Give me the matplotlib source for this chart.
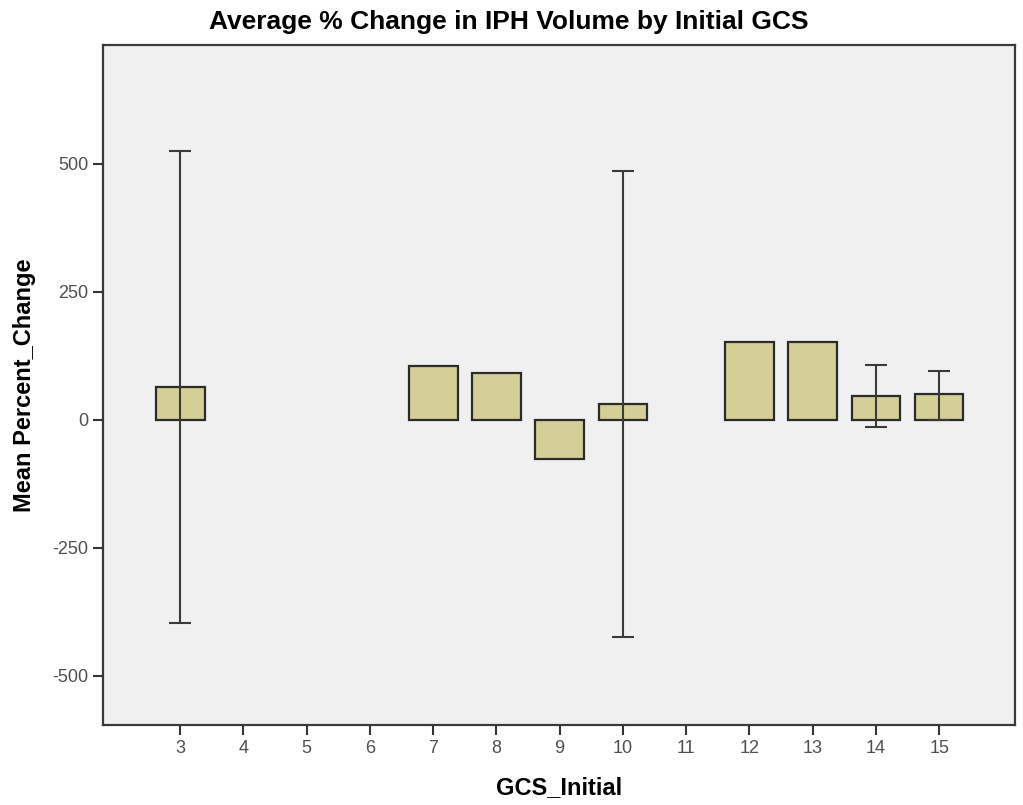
import numpy as np
import matplotlib.pyplot as plt
from matplotlib import font_manager

# data
gcs_ticks = [3, 4, 5, 6, 7, 8, 9, 10, 11, 12, 13, 14, 15]
gcs_bars = [3, 7, 8, 9, 10, 12, 13, 14, 15]
mean_change = [64, 105, 92, -76, 31, 152, 152, 47, 51]
ci_low = [-396, np.nan, np.nan, np.nan, -424, np.nan, np.nan, -14, 0]
ci_high = [525, np.nan, np.nan, np.nan, 486, np.nan, np.nan, 107, 96]

names = {f.name for f in font_manager.fontManager.ttflist}
title_font = ['Liberation Sans Narrow', 'Liberation Sans', 'DejaVu Sans']
title_font = [f for f in title_font if f in names] or ['DejaVu Sans']
plt.rcParams['font.family'] = ['Liberation Sans', 'DejaVu Sans']

fig = plt.figure(figsize=(10.23, 8.05), dpi=100)
ax = fig.add_axes([0.1007, 0.0994, 0.8915, 0.8447])
ax.set_facecolor('#f0f0f0')

ax.bar(gcs_bars, mean_change, width=0.77, color='#d3cf96',
       edgecolor='#2b2b2b', linewidth=1.6, zorder=2)

# error bars only where a range exists
x = np.array(gcs_bars, dtype=float)
m = np.array(mean_change, dtype=float)
lo = np.array(ci_low, dtype=float)
hi = np.array(ci_high, dtype=float)
ok = ~np.isnan(lo)
ax.errorbar(x[ok], m[ok], yerr=[m[ok] - lo[ok], hi[ok] - m[ok]], fmt='none',
            ecolor='#3a3a3a', elinewidth=1.5, capsize=8, capthick=1.5, zorder=3)

ax.set_xlim(1.78, 16.2)
ax.set_ylim(-596, 732)
ax.set_xticks(gcs_ticks)
ax.set_xticklabels([str(g) for g in gcs_ticks])
ax.set_yticks([-500, -250, 0, 250, 500])
ax.set_yticklabels(['-500', '-250', '0', '250', '500'])
ax.tick_params(direction='out', length=7, width=1.5, color='#333333',
               labelcolor='#505050', labelsize=13)

for s in ax.spines.values():
    s.set_color('#3a3a3a')
    s.set_linewidth(1.6)

ax.set_xlabel('GCS_Initial', fontsize=17, fontweight='bold', labelpad=14)
ax.set_ylabel('Mean Percent_Change', fontsize=17, fontweight='bold', labelpad=12)
fig.suptitle('Average % Change in IPH Volume by Initial GCS', x=0.497, y=0.988,
             fontsize=19, fontweight='bold', family=title_font)

fig.savefig('out.png', dpi=100)
